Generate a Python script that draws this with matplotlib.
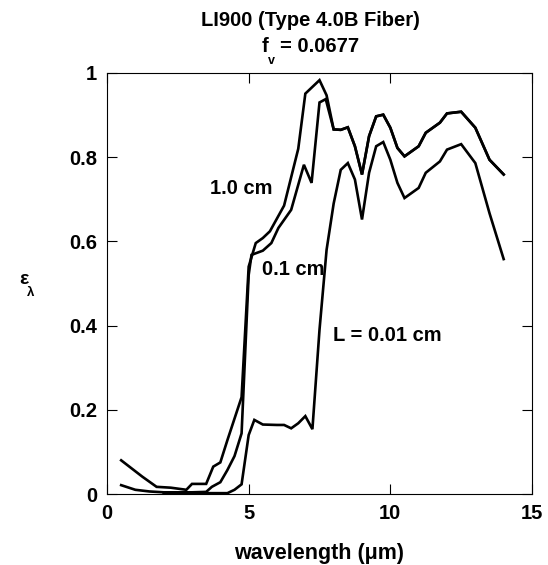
import matplotlib
matplotlib.use("Agg")
import matplotlib.pyplot as plt

# spectral emittance of LI900, three sample thicknesses
wl_10 = [0.5, 1.25, 1.5, 1.75, 2.25, 2.8, 3.0, 3.5, 3.75, 4.0, 4.25, 4.75,
         5.0, 5.25, 5.5, 5.75, 6.25, 6.75, 7.0, 7.5, 7.75, 8.0, 8.25, 8.5,
         8.75, 9.0, 9.25, 9.5, 9.75, 10.0, 10.25, 10.5, 11.0, 11.25, 11.75,
         12.0, 12.5, 13.0, 13.5, 14.0]
eps_10 = [0.08, 0.041, 0.029, 0.017, 0.015, 0.01, 0.024, 0.024, 0.065, 0.075,
          0.128, 0.23, 0.54, 0.596, 0.608, 0.624, 0.685, 0.82, 0.951, 0.983,
          0.947, 0.866, 0.865, 0.871, 0.826, 0.759, 0.85, 0.897, 0.901, 0.87,
          0.822, 0.802, 0.826, 0.858, 0.882, 0.904, 0.908, 0.87, 0.794, 0.759]

wl_01 = [0.5, 1.0, 1.5, 2.0, 2.5, 3.0, 3.5, 3.7, 4.0, 4.25, 4.5, 4.75, 5.0,
         5.1, 5.5, 5.8, 6.05, 6.5, 6.95, 7.22, 7.5, 7.72, 8.0, 8.25, 8.5,
         8.75, 9.0, 9.25, 9.5, 9.75, 10.0, 10.25, 10.5, 11.0, 11.25, 11.75,
         12.0, 12.5, 13.0, 13.5, 14.0]
eps_01 = [0.021, 0.01, 0.006, 0.004, 0.004, 0.004, 0.005, 0.017, 0.028, 0.057,
          0.09, 0.144, 0.52, 0.568, 0.578, 0.596, 0.632, 0.675, 0.782, 0.739,
          0.93, 0.938, 0.866, 0.865, 0.871, 0.826, 0.759, 0.85, 0.897, 0.901,
          0.87, 0.822, 0.802, 0.826, 0.858, 0.882, 0.904, 0.908, 0.87, 0.794,
          0.759]

wl_001 = [2.0, 4.25, 4.5, 4.75, 5.0, 5.2, 5.5, 6.0, 6.25, 6.5, 6.75, 7.0,
          7.25, 7.5, 7.75, 8.0, 8.25, 8.5, 8.75, 9.0, 9.25, 9.5, 9.75, 10.0,
          10.25, 10.5, 11.0, 11.25, 11.75, 12.0, 12.5, 13.0, 13.5, 14.0]
eps_001 = [0.002, 0.002, 0.01, 0.023, 0.14, 0.176, 0.165, 0.164, 0.164, 0.156,
           0.168, 0.185, 0.154, 0.39, 0.58, 0.69, 0.77, 0.786, 0.747, 0.652,
           0.763, 0.826, 0.836, 0.794, 0.739, 0.703, 0.727, 0.763, 0.79,
           0.818, 0.831, 0.786, 0.667, 0.558]

x_ticks = [0, 5, 10, 15]
y_ticks = [0, 0.2, 0.4, 0.6, 0.8, 1.0]
y_ticklabels = ["0", "0.2", "0.4", "0.6", "0.8", "1"]

W, H = 548, 565
plt.rcParams["font.family"] = ["Liberation Sans", "DejaVu Sans"]
plt.rcParams["font.weight"] = "bold"

fig = plt.figure(figsize=(W / 100, H / 100), dpi=100)
ax = fig.add_axes([107 / W, 1 - 494 / H, 425 / W, 421 / H])

for wl, eps in [(wl_10, eps_10), (wl_01, eps_01), (wl_001, eps_001)]:
    ax.plot(wl, eps, color="black", lw=1.9, solid_joinstyle="miter")

ax.set_xlim(0, 15)
ax.set_ylim(0, 1)
ax.set_xticks(x_ticks)
ax.set_yticks(y_ticks)
ax.set_yticklabels(y_ticklabels)
ax.tick_params(direction="in", length=7, width=0.8, labelsize=14.5, pad=7,
               top=True, right=True)
for s in ax.spines.values():
    s.set_linewidth(0.8)

ax.text(4.73, 0.725, "1.0 cm", fontsize=14.5, ha="center", va="center")
ax.text(6.57, 0.533, "0.1 cm", fontsize=14.5, ha="center", va="center")
ax.text(7.98, 0.376, "L = 0.01 cm", fontsize=14.5, ha="left", va="center")

# x label sits well below the tick labels
fig.text(319 / W, 1 - 553 / H, "wavelength (\u03bcm)", fontsize=15.5,
         ha="center", va="center")

# y label: epsilon with lambda subscript
fig.text(19 / W, 1 - 280 / H, "\u03b5", fontsize=14, ha="left", va="center")
fig.text(27 / W, 1 - 293 / H, "\u03bb", fontsize=9.5, ha="left", va="center")

# two-line title
fig.text(310 / W, 1 - 21 / H, "LI900 (Type 4.0B Fiber)", fontsize=14.5,
         ha="center", va="center")
fig.text(262 / W, 1 - 47 / H, "f", fontsize=14.5, ha="left", va="center")
fig.text(280 / W, 1 - 47 / H, "= 0.0677", fontsize=14.5, ha="left", va="center")
fig.text(268 / W, 1 - 61 / H, "v", fontsize=9, ha="left", va="center")

fig.savefig("out.png", dpi=100)
